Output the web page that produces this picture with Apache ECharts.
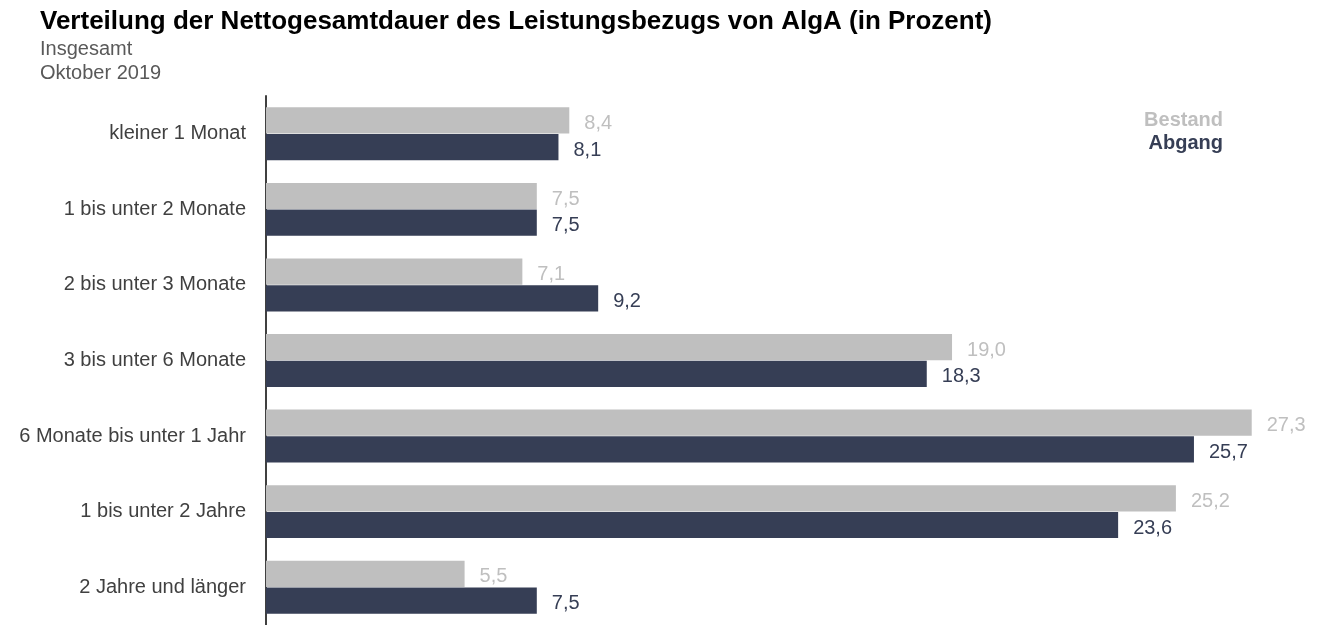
<!DOCTYPE html>
<html>
<head>
<meta charset="utf-8">
<script src="https://cdn.jsdelivr.net/npm/echarts@6/dist/echarts.min.js"></script>
<style>
  html, body { margin: 0; padding: 0; background: #fff; }
  #chart { width: 1320px; height: 625px; }
</style>
</head>
<body>
<div id="chart"></div>
<script>
// Kategorien und Werte (Prozent)
var categories = [
  'kleiner 1 Monat',
  '1 bis unter 2 Monate',
  '2 bis unter 3 Monate',
  '3 bis unter 6 Monate',
  '6 Monate bis unter 1 Jahr',
  '1 bis unter 2 Jahre',
  '2 Jahre und länger'
]
var bestand = [8.4, 7.5, 7.1, 19.0, 27.3, 25.2, 5.5]
var abgang = [8.1, 7.5, 9.2, 18.3, 25.7, 23.6, 7.5]

var grey = '#bfbfbf'
var navy = '#363e55'
var font = 'Liberation Sans, Arial, sans-serif'

function fmt (p) {
  return p.value.toFixed(1).replace('.', ',')
}

var chart = echarts.init(document.getElementById('chart'))
chart.setOption({
  animation: false,
  textStyle: { fontFamily: font },
  title: {
    text: 'Verteilung der Nettogesamtdauer des Leistungsbezugs von AlgA (in Prozent)',
    subtext: 'Insgesamt\nOktober 2019',
    left: 35,
    top: 4,
    itemGap: 2,
    textStyle: { fontFamily: font, fontSize: 26, fontWeight: 'bold', color: '#000' },
    subtextStyle: { fontFamily: font, fontSize: 20, color: '#595959', lineHeight: 24 }
  },
  legend: {
    orient: 'vertical',
    right: 87,
    top: 105,
    icon: 'none',
    itemWidth: 0,
    itemGap: 3,
    align: 'right',
    selectedMode: false,
    textStyle: { fontFamily: font, fontSize: 20, fontWeight: 'bold' },
    data: [
      { name: 'Bestand', textStyle: { color: grey } },
      { name: 'Abgang', textStyle: { color: navy } }
    ]
  },
  grid: {
    left: 266,
    top: 96,
    width: 1011,
    height: 539,
    containLabel: false
  },
  xAxis: {
    type: 'value',
    min: 0,
    max: 28,
    show: false
  },
  yAxis: {
    type: 'category',
    data: categories,
    inverse: true,
    axisLine: { lineStyle: { color: '#404040', width: 2 } },
    axisTick: { show: false },
    axisLabel: { fontFamily: font, fontSize: 20, color: '#404040', margin: 20 }
  },
  series: [
    {
      name: 'Bestand',
      type: 'bar',
      data: bestand,
      barGap: '2%',
      barCategoryGap: '30%',
      itemStyle: { color: grey },
      label: { show: true, position: 'right', distance: 15, offset: [0, 3], formatter: fmt, fontFamily: font, fontSize: 20, color: grey }
    },
    {
      name: 'Abgang',
      type: 'bar',
      data: abgang,
      itemStyle: { color: navy },
      label: { show: true, position: 'right', distance: 15, offset: [0, 3], formatter: fmt, fontFamily: font, fontSize: 20, color: navy }
    }
  ]
})
</script>
</body>
</html>
